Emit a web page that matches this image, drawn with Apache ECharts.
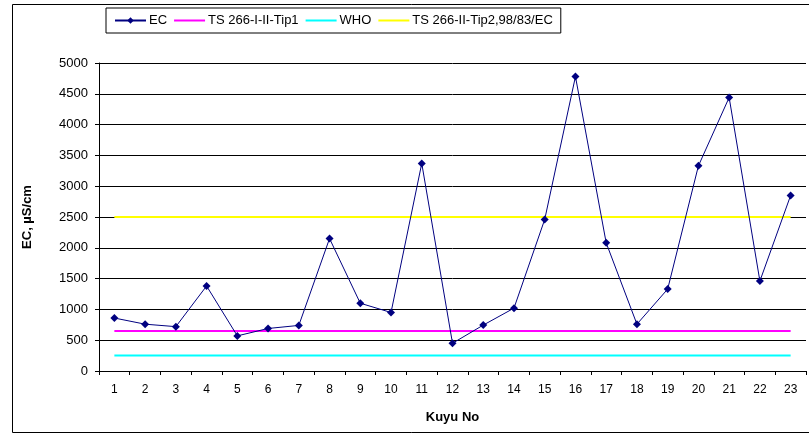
<!DOCTYPE html>
<html><head><meta charset="utf-8">
<script src="https://cdn.jsdelivr.net/npm/echarts@6/dist/echarts.min.js"></script>
<style>html,body{margin:0;padding:0;background:#fff}#c{width:809px;height:434px}</style>
</head><body><div id="c"></div>
<script>
const categories = ['1','2','3','4','5','6','7','8','9','10','11','12','13','14','15','16','17','18','19','20','21','22','23'];
const ecValues = [860,760,720,1380,570,690,740,2150,1100,950,3370,450,745,1020,2460,4780,2080,760,1330,3330,4440,1460,2850];
const tip1Value = 650;
const whoValue = 250;
const tip2Value = 2500;
const yTicks = [0,500,1000,1500,2000,2500,3000,3500,4000,4500,5000];

const font = 'Liberation Sans, Arial, sans-serif';
const chart = echarts.init(document.getElementById('c'));
const flat = v => categories.map(() => v);
chart.setOption({
  animation: false,
  textStyle: {fontFamily: font},
  graphic: [{type:'rect', shape:{x:12.5,y:4.5,width:820,height:428}, style:{fill:null, stroke:'#000', lineWidth:1}, silent:true}],
  legend: {
    left: 106, top: 8, itemWidth: 31, itemHeight: 8, itemGap: 6,
    padding: [6, 8, 6, 8],
    borderColor: '#000', borderWidth: 1,
    textStyle: {fontSize: 13, color: '#000', fontFamily: font, padding: [0,0,0,-2]},
    data: [
      {name: 'EC'},
      {name: 'TS 266-I-II-Tip1', itemStyle: {opacity: 0}},
      {name: 'WHO', itemStyle: {opacity: 0}},
      {name: 'TS 266-II-Tip2,98/83/EC', itemStyle: {opacity: 0}}
    ]
  },
  grid: {left: 99, right: 3, top: 63, bottom: 63},
  xAxis: {
    type: 'category', data: categories, boundaryGap: true,
    name: 'Kuyu No', nameLocation: 'middle', nameGap: 40,
    nameTextStyle: {fontWeight: 'bold', fontSize: 13, color: '#000', fontFamily: font},
    axisLine: {lineStyle: {color: '#000', width: 1}},
    axisTick: {show: true, alignWithLabel: false, length: 4, lineStyle: {color:'#000'}},
    axisLabel: {color: '#000', fontSize: 12, margin: 13, interval: 0, fontFamily: font}
  },
  yAxis: {
    type: 'value', min: yTicks[0], max: yTicks[yTicks.length-1], interval: 500,
    name: 'EC, µS/cm', nameLocation: 'middle', nameGap: 65, nameRotate: 90,
    nameTextStyle: {fontWeight: 'bold', fontSize: 13, color: '#000', fontFamily: font},
    axisLine: {show: true, lineStyle: {color: '#000', width: 1}},
    axisTick: {show: true, length: 4, lineStyle: {color:'#000'}},
    axisLabel: {color: '#000', fontSize: 13, margin: 11, fontFamily: font, formatter: v => String(v)},
    splitLine: {show: true, lineStyle: {color: '#000', width: 1}}
  },
  series: [
    {name: 'EC', type: 'line', data: ecValues, symbol: 'diamond', symbolSize: 8,
     lineStyle: {color: '#000080', width: 1}, itemStyle: {color: '#000080'}, z: 5},
    {name: 'TS 266-I-II-Tip1', type: 'line', data: flat(tip1Value), symbol: 'none',
     lineStyle: {color: '#FF00FF', width: 2}, itemStyle: {color: '#FF00FF'}},
    {name: 'WHO', type: 'line', data: flat(whoValue), symbol: 'none',
     lineStyle: {color: '#00FFFF', width: 2}, itemStyle: {color: '#00FFFF'}},
    {name: 'TS 266-II-Tip2,98/83/EC', type: 'line', data: flat(tip2Value), symbol: 'none',
     lineStyle: {color: '#FFFF00', width: 2}, itemStyle: {color: '#FFFF00'}}
  ]
});
</script></body></html>
